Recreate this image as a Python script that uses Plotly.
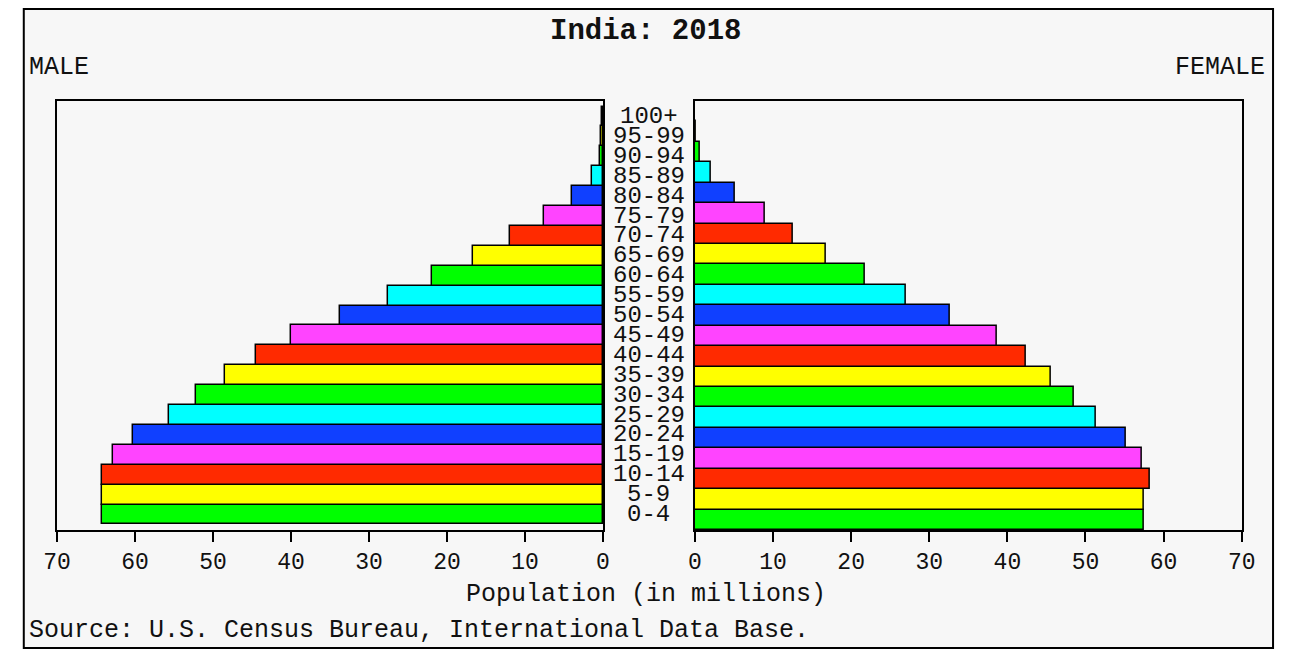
import plotly.graph_objects as go
from plotly.subplots import make_subplots

# Population by age group, millions (India, 2018)
age_groups = ["0-4", "5-9", "10-14", "15-19", "20-24", "25-29", "30-34",
              "35-39", "40-44", "45-49", "50-54", "55-59", "60-64", "65-69",
              "70-74", "75-79", "80-84", "85-89", "90-94", "95-99", "100+"]
male = [64.2, 64.2, 64.2, 62.8, 60.3, 55.7, 52.2, 48.4, 44.5, 40.0, 33.7,
        27.6, 21.9, 16.6, 11.9, 7.5, 3.9, 1.4, 0.4, 0.25, 0.08]
female = [57.5, 57.5, 58.2, 57.2, 55.2, 51.3, 48.5, 45.6, 42.4, 38.6, 32.6,
          27.0, 21.8, 16.8, 12.6, 8.9, 5.1, 2.1, 0.6, 0.15, 0.03]
x_ticks = [0, 10, 20, 30, 40, 50, 60, 70]

CYCLE = ["#00FF00", "#FFFF00", "#FF2A00", "#FF44FF", "#1040FF", "#00FFFF"]
bar_colors = [CYCLE[i % len(CYCLE)] for i in range(len(age_groups))]

FONT = "Liberation Mono"
BG = "#F7F7F7"
W, H = 1289, 654


def px_x(p):
    return p / W


def px_y(p):
    return 1 - p / H


fig = make_subplots(rows=1, cols=2, shared_yaxes=False)

fig.add_trace(
    go.Bar(y=age_groups, x=male, orientation="h",
           marker=dict(color=bar_colors, line=dict(color="black", width=1.5)),
           showlegend=False),
    row=1, col=1,
)
fig.add_trace(
    go.Bar(y=age_groups, x=female, orientation="h",
           marker=dict(color=bar_colors, line=dict(color="black", width=1.5)),
           showlegend=False),
    row=1, col=2,
)

axis_common = dict(
    showline=True, mirror=True, linecolor="black", linewidth=1.5,
    showgrid=False, zeroline=False, ticks="outside", ticklen=10,
    tickcolor="black", tickwidth=1.5, tickvals=x_ticks,
    tickfont=dict(family=FONT, size=23, color="#111"),
)
fig.update_xaxes(axis_common)
fig.update_xaxes(range=[70, 0], domain=[px_x(44), px_x(602)], row=1, col=1)
fig.update_xaxes(range=[0, 70], domain=[px_x(696), px_x(1255)], row=1, col=2)
fig.update_yaxes(
    showline=True, mirror=True, linecolor="black", linewidth=1.5,
    showgrid=False, zeroline=False, showticklabels=False, ticks="",
    categoryorder="array", categoryarray=age_groups,
    domain=[px_y(530), px_y(101)],
)

# Age labels in the middle
for g in age_groups:
    fig.add_annotation(x=px_x(649), xref="paper", y=g, yref="y",
                       text=g, showarrow=False,
                       font=dict(family=FONT, size=24, color="#111"))

texts = [
    dict(x=px_x(646), y=px_y(31), text="<b>India: 2018</b>", size=29,
         xanchor="center"),
    dict(x=px_x(13), y=px_y(67), text="MALE", size=25, xanchor="left"),
    dict(x=px_x(1281), y=px_y(67), text="FEMALE", size=25, xanchor="right"),
    dict(x=px_x(646), y=px_y(594), text="Population (in millions)", size=25,
         xanchor="center"),
    dict(x=px_x(13), y=px_y(630),
         text="Source: U.S. Census Bureau, International Data Base.", size=25,
         xanchor="left"),
]
for t in texts:
    fig.add_annotation(x=t["x"], y=t["y"], xref="paper", yref="paper",
                       text=t["text"], showarrow=False, xanchor=t["xanchor"],
                       yanchor="middle",
                       font=dict(family=FONT, size=t["size"], color="#111"))

# Outer frame
fig.add_shape(type="rect", xref="paper", yref="paper",
              x0=px_x(10), x1=px_x(1287), y0=px_y(648), y1=px_y(9),
              line=dict(color="black", width=2), fillcolor=BG, layer="below")

fig.update_layout(
    autosize=True,
    margin=dict(l=0, r=0, t=0, b=0),
    paper_bgcolor="white",
    plot_bgcolor=BG,
    bargap=0,
    font=dict(family=FONT, color="black"),
)

# fill the whole window: no page margin, no scrollbars, then resize
post = (
    "var gd=document.getElementById('{plot_id}');"
    "document.documentElement.style.margin='0';"
    "document.documentElement.style.overflow='hidden';"
    "document.body.style.margin='0';"
    "document.body.style.overflow='hidden';"
    "gd.style.width='100vw';gd.style.height='100vh';"
    "Plotly.Plots.resize(gd);"
)
fig.write_html("out.html", config={"displayModeBar": False}, post_script=post)
